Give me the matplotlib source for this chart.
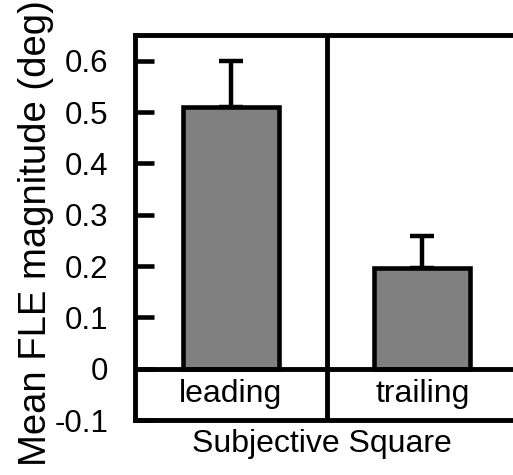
import matplotlib.pyplot as plt

conditions = ["leading", "trailing"]
fle_mean = [0.51, 0.196]
fle_err = [0.09, 0.062]
yticks = [-0.1, 0, 0.1, 0.2, 0.3, 0.4, 0.5, 0.6]
ytick_labels = ["-0.1", "0", "0.1", "0.2", "0.3", "0.4", "0.5", "0.6"]

plt.rcParams['font.family'] = ['Liberation Sans', 'DejaVu Sans']

fig = plt.figure(figsize=(5.13, 4.75), dpi=100)
ax = fig.add_axes([135 / 513, 1 - 420 / 475, 383 / 513, 385 / 475])

x = list(range(len(conditions)))
ax.bar(x, fle_mean, width=0.5, color="#808080", edgecolor="black", linewidth=3.3, zorder=2)
ax.errorbar(x, fle_mean, yerr=[[0, 0], fle_err], fmt="none", ecolor="black",
            elinewidth=3.2, capsize=8.5, capthick=3.2, zorder=1)

ax.axhline(0, color="black", lw=3.5, zorder=3)
ax.axvline(0.5, color="black", lw=3.5, zorder=3)

for xi, name in zip(x, conditions):
    ax.text(xi, -0.05, name, ha="center", va="center", fontsize=23)

ax.set_xlim(-0.5, 1.5)
ax.set_ylim(-0.1, 0.65)
ax.set_xticks([])
ax.set_yticks(yticks)
ax.set_yticklabels(ytick_labels, fontsize=22.5)
ax.tick_params(axis="y", direction="in", length=14, width=3.3, pad=19, colors="black")
for s in ax.spines.values():
    s.set_linewidth(3.5)

fig.text(36 / 513, 1 - 233 / 475, "Mean FLE magnitude (deg)", rotation=90,
         ha="center", va="center", fontsize=27.5)
fig.text(322 / 513, 1 - 444 / 475, "Subjective Square", ha="center", va="center", fontsize=23)

fig.savefig("out.png", dpi=100)
